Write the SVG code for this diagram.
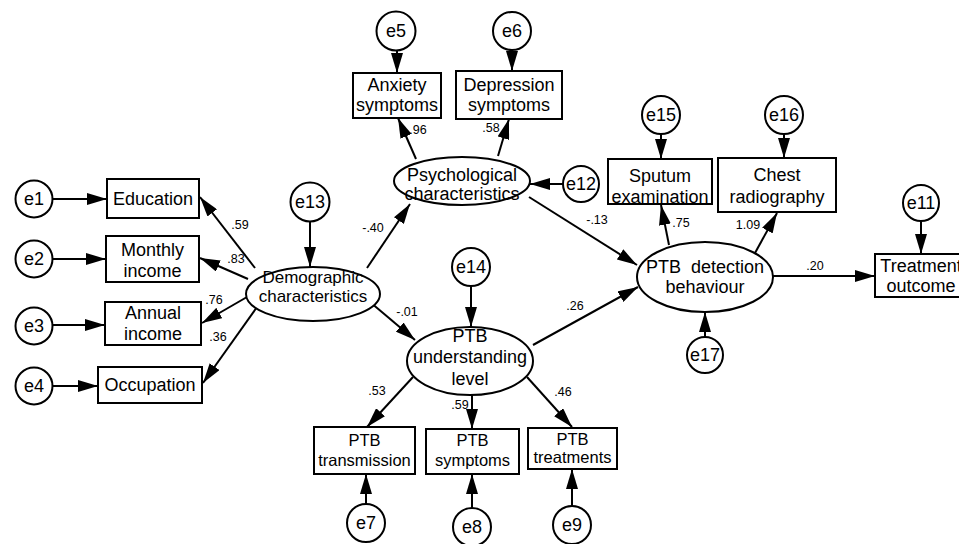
<svg xmlns="http://www.w3.org/2000/svg" width="959" height="544" viewBox="0 0 959 544">
<defs>
<marker id="ah" markerUnits="userSpaceOnUse" markerWidth="20" markerHeight="12" refX="20" refY="6" orient="auto" viewBox="0 0 20 12">
<path d="M0,0 L20,6 L0,12 z" fill="#000"/>
</marker>
</defs>
<style>
rect, ellipse, circle { fill: #fff; stroke: #000; stroke-width: 2; }
.c line { stroke: #000; stroke-width: 2; marker-end: url(#ah); }
text { font-family: "Liberation Sans", Arial, sans-serif; fill: #000; text-anchor: middle; }
.n { font-size: 18px; }
.s { font-size: 16.5px; }
.e { font-size: 18px; }
.k { font-size: 12.5px; }
</style>
<rect width="959" height="544" fill="#fff" style="stroke:none"/>

<g class="c" id="connectors">
<line x1="53" y1="199" x2="107" y2="199"/>
<line x1="53" y1="259" x2="106" y2="259"/>
<line x1="53" y1="325" x2="105" y2="325"/>
<line x1="53" y1="386" x2="98" y2="386"/>
<line x1="255" y1="268" x2="200" y2="197"/>
<line x1="248" y1="279" x2="200" y2="258"/>
<line x1="247" y1="297" x2="202" y2="323"/>
<line x1="257" y1="307" x2="203" y2="383"/>
<line x1="310" y1="222" x2="310" y2="267"/>
<line x1="367" y1="268" x2="410" y2="204"/>
<line x1="370" y1="302" x2="415" y2="340"/>
<line x1="397" y1="51" x2="397" y2="73"/>
<line x1="512" y1="51" x2="512" y2="71"/>
<line x1="416" y1="159" x2="398" y2="118"/>
<line x1="498" y1="156" x2="509" y2="119"/>
<line x1="563" y1="184" x2="530" y2="184"/>
<line x1="529" y1="197" x2="637" y2="265"/>
<line x1="533" y1="345" x2="638" y2="287"/>
<line x1="661" y1="134" x2="661" y2="159"/>
<line x1="784" y1="134" x2="784" y2="158"/>
<line x1="669" y1="245" x2="661" y2="205"/>
<line x1="755" y1="253" x2="777" y2="213"/>
<line x1="773" y1="276" x2="875" y2="276"/>
<line x1="921" y1="221" x2="921" y2="254"/>
<line x1="705" y1="337" x2="705" y2="312"/>
<line x1="471" y1="286" x2="471" y2="327"/>
<line x1="413" y1="377" x2="367" y2="427"/>
<line x1="472" y1="395" x2="472" y2="429"/>
<line x1="527" y1="377" x2="572" y2="427"/>
<line x1="366" y1="505" x2="366" y2="474"/>
<line x1="472" y1="508" x2="472" y2="474"/>
<line x1="572" y1="506" x2="572" y2="469"/>
</g>

<g id="labels" class="k">
<text x="240" y="229">.59</text>
<text x="236" y="263">.83</text>
<text x="214" y="304">.76</text>
<text x="218" y="341">.36</text>
<text x="373" y="232">-.40</text>
<text x="407" y="316">-.01</text>
<text x="418" y="134">.96</text>
<text x="491" y="132">.58</text>
<text x="597" y="224">-.13</text>
<text x="681" y="227">.75</text>
<text x="748" y="229">1.09</text>
<text x="815" y="270">.20</text>
<text x="575" y="310">.26</text>
<text x="377" y="395">.53</text>
<text x="460" y="409">.59</text>
<text x="563" y="396">.46</text>
</g>

<g id="e1"><circle cx="34" cy="199" r="18.5"/><text class="e" x="34" y="205">e1</text></g>
<g id="e2"><circle cx="34" cy="259" r="18.5"/><text class="e" x="34" y="265">e2</text></g>
<g id="e3"><circle cx="34" cy="326" r="18.5"/><text class="e" x="34" y="332">e3</text></g>
<g id="e4"><circle cx="34" cy="386" r="18.5"/><text class="e" x="34" y="392">e4</text></g>

<g id="education"><rect x="107" y="179" width="92" height="39"/><text class="n" x="153" y="205">Education</text></g>
<g id="monthly"><rect x="106" y="236" width="93" height="46"/><text class="n" x="152.5" y="256">Monthly</text><text class="n" x="152.5" y="277">income</text></g>
<g id="annual"><rect x="105" y="302" width="96" height="43"/><text class="n" x="153" y="319">Annual</text><text class="n" x="153" y="340">income</text></g>
<g id="occupation"><rect x="98" y="367" width="104" height="36"/><text class="n" x="150" y="391">Occupation</text></g>

<g id="e13"><circle cx="310" cy="202" r="19.5"/><text class="e" x="310" y="208">e13</text></g>
<g id="demographic"><ellipse cx="313" cy="294" rx="67" ry="27"/><text x="313" y="283" style="font-size:17px">Demographic</text><text x="313" y="302" style="font-size:17px">characteristics</text></g>

<g id="e5"><circle cx="396" cy="31" r="19.5"/><text class="e" x="396" y="37">e5</text></g>
<g id="e6"><circle cx="512" cy="31" r="19"/><text class="e" x="512" y="37">e6</text></g>
<g id="anxiety"><rect x="353" y="73" width="88" height="45"/><text class="n" x="397" y="91">Anxiety</text><text class="n" x="397" y="111">symptoms</text></g>
<g id="depression"><rect x="456" y="71" width="106" height="48"/><text class="n" x="509" y="91">Depression</text><text class="n" x="509" y="111">symptoms</text></g>
<g id="psychological"><ellipse cx="462" cy="181" rx="68" ry="24"/><text class="n" x="462" y="181">Psychological</text><text class="n" x="462" y="200">characteristics</text></g>
<g id="e12"><circle cx="581" cy="184" r="18"/><text class="e" x="581" y="190">e12</text></g>

<g id="e15"><circle cx="661" cy="115" r="19"/><text class="e" x="661" y="121">e15</text></g>
<g id="e16"><circle cx="784" cy="115" r="19"/><text class="e" x="784" y="121">e16</text></g>
<g id="sputum"><rect x="608" y="159" width="104" height="45"/><text class="n" x="660" y="182">Sputum</text><text class="n" x="660" y="203">examination</text></g>
<g id="chest"><rect x="718" y="158" width="118" height="54"/><text class="n" x="777" y="181">Chest</text><text class="n" x="777" y="203">radiography</text></g>
<g id="detection"><ellipse cx="705" cy="277" rx="68" ry="35"/><text class="n" x="705" y="273" style="white-space:pre">PTB  detection</text><text class="n" x="705" y="293">behaviour</text></g>
<g id="e17"><circle cx="705" cy="355" r="18"/><text class="e" x="705" y="361">e17</text></g>
<g id="e11"><circle cx="921" cy="203" r="18"/><text class="e" x="921" y="209">e11</text></g>
<g id="treatment"><rect x="875" y="254" width="92" height="43"/><text class="n" x="921" y="272">Treatment</text><text class="n" x="921" y="292">outcome</text></g>

<g id="e14"><circle cx="471" cy="267" r="19"/><text class="e" x="471" y="273">e14</text></g>
<g id="understanding"><ellipse cx="470" cy="361" rx="63" ry="34"/><text class="n" x="470" y="342">PTB</text><text class="n" x="470" y="363">understanding</text><text class="n" x="470" y="385">level</text></g>
<g id="transmission"><rect x="314" y="427" width="101" height="47"/><text class="s" x="364.5" y="446">PTB</text><text class="s" x="364.5" y="466">transmission</text></g>
<g id="symptoms"><rect x="426" y="429" width="93" height="45"/><text class="s" x="472.5" y="446">PTB</text><text class="s" x="472.5" y="466">symptoms</text></g>
<g id="treatments"><rect x="528" y="428" width="89" height="41"/><text class="s" x="572.5" y="445">PTB</text><text class="s" x="572.5" y="463">treatments</text></g>
<g id="e7"><circle cx="366" cy="523" r="19"/><text class="e" x="366" y="529">e7</text></g>
<g id="e8"><circle cx="472" cy="527" r="19"/><text class="e" x="472" y="533">e8</text></g>
<g id="e9"><circle cx="572" cy="525" r="19"/><text class="e" x="572" y="531">e9</text></g>
</svg>
